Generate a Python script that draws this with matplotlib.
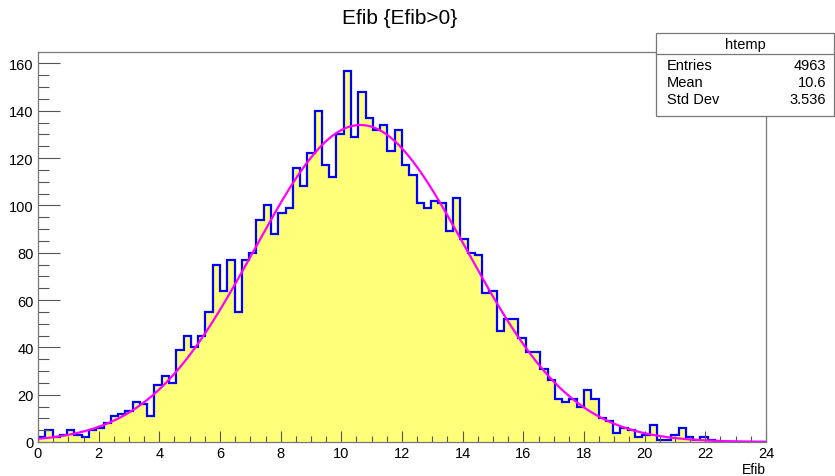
import numpy as np
import matplotlib
matplotlib.use("Agg")
import matplotlib.pyplot as plt
from matplotlib.patches import Rectangle
from matplotlib.lines import Line2D
from matplotlib.ticker import MultipleLocator

# histogram: 100 bins from 0 to 24
x_min, x_max, n_bins = 0.0, 24.0, 100
counts = [
    2, 5, 2, 3, 5, 3, 2, 5, 6, 8,
    11, 12, 13, 17, 16, 11, 24, 28, 25, 39,
    45, 40, 45, 55, 75, 64, 77, 55, 77, 80,
    94, 100, 88, 97, 99, 116, 108, 122, 140, 117,
    112, 130, 157, 129, 148, 137, 132, 134, 123, 132,
    117, 113, 101, 99, 102, 101, 89, 103, 86, 80,
    79, 63, 64, 47, 52, 52, 44, 38, 38, 31,
    26, 18, 17, 18, 15, 22, 18, 10, 9, 4,
    6, 5, 2, 3, 7, 1, 1, 3, 6, 2,
    1, 2, 1, 0, 0, 0, 0, 0, 0, 0,
]

# gaus fit parameters
fit_const = 134.0
fit_mean = 10.63
fit_sigma = 3.5

stats_name = "htemp"
stats_labels = ["Entries", "Mean", "Std Dev"]
stats_values = ["4963", "10.6", "3.536"]

title = "Efib {Efib>0}"
x_label = "Efib"

W, H = 835, 477
plt.rcParams["font.family"] = ["Liberation Sans", "DejaVu Sans"]

fig = plt.figure(figsize=(W / 100, H / 100), dpi=100)
ax = fig.add_axes([38 / W, 1 - 443 / H, (766 - 38) / W, (443 - 53) / H])

edges = np.linspace(x_min, x_max, n_bins + 1)
ax.stairs(counts, edges, fill=True, color="#ffff7a", lw=0)
ax.stairs(counts, edges, color="#0000ff", lw=1.6, baseline=0)

xf = np.linspace(x_min, x_max, 600)
yf = fit_const * np.exp(-0.5 * ((xf - fit_mean) / fit_sigma) ** 2)
ax.plot(xf, yf, color="#ff00ff", lw=1.6)

ax.set_xlim(x_min, x_max)
ax.set_ylim(0, max(counts) * 1.05)

ax.xaxis.set_major_locator(MultipleLocator(2))
ax.xaxis.set_minor_locator(MultipleLocator(0.5))
ax.yaxis.set_major_locator(MultipleLocator(20))
ax.yaxis.set_minor_locator(MultipleLocator(5))
ax.tick_params(axis="x", which="major", direction="in", length=8, width=0.8,
               color="#555555", labelsize=10.5, pad=3)
ax.tick_params(axis="x", which="minor", direction="in", length=4, width=0.8, color="#555555")
ax.tick_params(axis="y", which="major", direction="in", length=16, width=0.8,
               color="#555555", labelsize=10.5, pad=3)
ax.tick_params(axis="y", which="minor", direction="in", length=8, width=0.8, color="#555555")
for s in ax.spines.values():
    s.set_color("#777777")
    s.set_linewidth(0.9)

fig.text(400 / W, 1 - 19 / H, title, ha="center", va="center", fontsize=15)
fig.text(766 / W, 1 - 470 / H, x_label, ha="right", va="center", fontsize=10)

# stats box
bx0, by0, bx1, by1 = 656, 34, 834, 116.5
fig.add_artist(Rectangle((bx0 / W, 1 - by1 / H), (bx1 - bx0) / W, (by1 - by0) / H,
                         transform=fig.transFigure, facecolor="white",
                         edgecolor="#777777", lw=0.9, zorder=5))
fig.add_artist(Line2D([bx0 / W, bx1 / W], [1 - 55 / H, 1 - 55 / H],
                      transform=fig.transFigure, color="#777777", lw=0.9, zorder=6))
fig.text((bx0 + bx1) / 2 / W, 1 - 44.5 / H, stats_name, ha="center", va="center",
         fontsize=10.5, zorder=7)
row_y = [66, 83, 100]
for lab, val, ry in zip(stats_labels, stats_values, row_y):
    fig.text(667 / W, 1 - ry / H, lab, ha="left", va="center", fontsize=10.5, zorder=7)
    fig.text(826 / W, 1 - ry / H, val, ha="right", va="center", fontsize=10.5, zorder=7)

fig.savefig("out.png", dpi=100)
